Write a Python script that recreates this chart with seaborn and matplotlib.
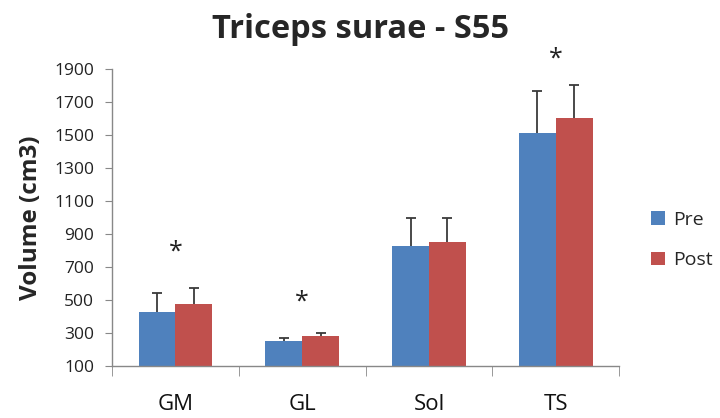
import numpy as np
import pandas as pd
import matplotlib
matplotlib.use("Agg")
import matplotlib.pyplot as plt
import seaborn as sns

# данные
muscles = ["GM", "GL", "Sol", "TS"]
pre = [430, 250, 830, 1510]
post = [475, 280, 850, 1600]
pre_err = [115, 22, 165, 255]
post_err = [95, 17, 145, 205]
star_groups = ["GM", "GL", "TS"]
star_y = [790, 490, 1960]
y_ticks = list(range(100, 2000, 200))

df = pd.DataFrame({
    "muscle": muscles * 2,
    "volume": pre + post,
    "phase": ["Pre"] * 4 + ["Post"] * 4,
})

sns.set_style("white")
plt.rcParams["font.family"] = ["Open Sans", "DejaVu Sans"]

fig = plt.figure(figsize=(7.2, 4.18), dpi=100)
ax = fig.add_axes([0.1556, 0.1244, 0.7044, 0.7106])

sns.barplot(data=df, x="muscle", y="volume", hue="phase", order=muscles,
            hue_order=["Pre", "Post"], palette=["#4F81BD", "#C0504D"],
            width=0.58, saturation=1, linewidth=0, ax=ax, errorbar=None)

# усы погрешностей (только вверх)
for cont, errs in zip(ax.containers, [pre_err, post_err]):
    xs = np.array([p.get_x() + p.get_width() / 2 for p in cont.patches])
    hs = np.array([p.get_height() for p in cont.patches])
    tops = hs + np.array(errs)
    ax.vlines(xs, hs, tops, color="#3a3a3a", linewidth=1.3, zorder=1)
    ax.hlines(tops, xs - 0.04, xs + 0.04, color="#3a3a3a", linewidth=1.3,
              zorder=1)

# звёздочки
for g, y in zip(star_groups, star_y):
    ax.text(muscles.index(g), y, "*", ha="center", va="center",
            fontsize=18, color="#222222", clip_on=False)

ax.set_ylim(100, 1900)
ax.set_xlim(-0.5, 3.5)
ax.set_yticks(y_ticks)
ax.tick_params(axis="y", labelsize=12.5, length=5, color="#888888", left=True,
               labelcolor="#222222", pad=8)
ax.tick_params(axis="x", which="major", length=0, labelsize=16, pad=20,
               labelcolor="#111111")
ax.set_xticks([-0.5, 0.5, 1.5, 2.5, 3.5], minor=True)
ax.tick_params(axis="x", which="minor", length=7, color="#888888", bottom=True)

for s in ["top", "right"]:
    ax.spines[s].set_visible(False)
for s in ["left", "bottom"]:
    ax.spines[s].set_color("#888888")
    ax.spines[s].set_linewidth(1.0)

ax.set_xlabel("")
ax.set_ylabel("Volume (cm3)", fontsize=17.5, fontweight="bold")
ax.yaxis.set_label_coords(-0.137, 0.5)
fig.suptitle("Triceps surae - S55", x=0.5, y=0.968, fontsize=23.5,
             fontweight="bold")

ax.legend(loc="center left", bbox_to_anchor=(1.063, 0.424), frameon=False,
          fontsize=14, handlelength=0.72, handleheight=0.72, labelspacing=1.16,
          handletextpad=0.41, borderpad=0, borderaxespad=0)

fig.savefig("out.png", dpi=100)
